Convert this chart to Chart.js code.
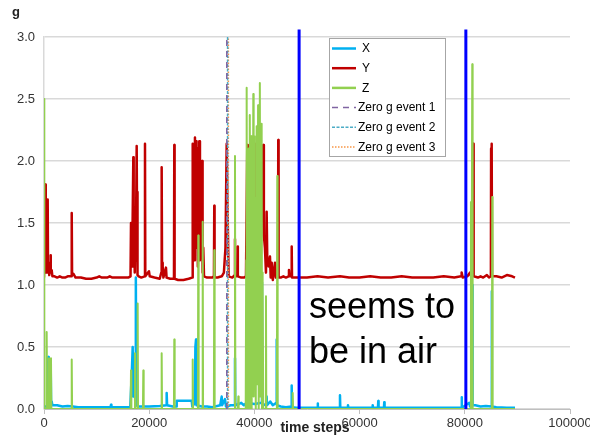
<!DOCTYPE html>
<html>
<head>
<meta charset="utf-8">
<script src="https://cdn.jsdelivr.net/npm/chart.js@4/dist/chart.umd.min.js"></script>
<style>
html,body{margin:0;padding:0;background:#fff;}
#wrap{width:590px;height:437px;position:relative;}
</style>
</head>
<body>
<div id="wrap"><canvas id="c" width="590" height="437"></canvas></div>
<script>
// ---------- data ----------
const xTickLabels = ['0','20000','40000','60000','80000','100000'];
const yTickLabels = ['0.0','0.5','1.0','1.5','2.0','2.5','3.0'];
const seriesNames = ['X','Y','Z','Zero g event 1','Zero g event 2','Zero g event 3'];
const xAxisTitle = 'time steps';
const yAxisTitle = 'g';
const noteLines = ['seems to','be in air'];

// [time step, g]
const seriesX = [[0,0.02],[730,0.02],[820,0.42],[900,0.03],[1150,0.05],[1270,0.35],[1350,0.04],[1460,0.06],[1600,0.03],[2500,0.03],[3500,0.02],[4500,0.025],[5500,0.02],[6500,0.015],[8000,0.015],[10000,0.015],[12650,0.015],[12740,0.035],[12820,0.015],[15000,0.015],[16400,0.015],[16700,0.3],[16860,0.50],[16950,0.1],[17200,0.35],[17350,0.05],[17430,0.05],[17490,1.06],[17550,0.03],[18000,0.02],[20000,0.02],[22000,0.025],[23250,0.03],[23320,0.13],[23400,0.03],[24500,0.02],[25150,0.02],[25230,0.067],[28080,0.067],[28200,0.02],[28700,0.05],[28780,0.5],[28900,0.56],[28980,0.03],[30000,0.02],[31000,0.02],[32000,0.015],[33500,0.03],[33780,0.1],[33860,0.03],[34410,0.08],[34600,0.02],[35500,0.03],[36250,0.03],[36310,0.41],[36370,0.03],[37000,0.04],[37500,0.05],[38000,0.03],[38500,0.05],[40000,0.04],[41380,0.05],[41440,1.02],[41500,0.04],[42280,0.03],[42330,0.1],[42400,0.03],[43000,0.06],[43500,0.03],[44180,0.05],[44240,0.56],[44300,0.03],[45000,0.02],[46000,0.015],[47030,0.02],[47090,0.19],[47150,0.015],[48000,0.01],[51970,0.01],[52030,0.045],[52090,0.01],[56210,0.01],[56270,0.11],[56330,0.01],[57730,0.01],[57790,0.03],[57850,0.01],[62430,0.01],[62490,0.03],[62550,0.01],[63490,0.01],[63550,0.065],[63610,0.01],[64630,0.01],[64690,0.055],[64750,0.01],[79340,0.01],[79400,0.095],[79460,0.01],[80850,0.05],[81000,0.02],[81250,0.02],[81310,0.4],[81420,1.0],[81480,0.03],[82000,0.03],[83000,0.02],[84000,0.025],[85050,0.02],[85110,0.95],[85170,0.02],[86000,0.015],[88000,0.01],[89540,0.01]];

const seriesY = [[0,1.06],[180,1.06],[250,1.81],[330,1.1],[450,1.2],[550,1.12],[640,1.1],[700,1.69],[770,1.1],[900,1.18],[1000,1.08],[1150,1.15],[1240,1.24],[1320,1.1],[1460,1.12],[1600,1.07],[2000,1.07],[2500,1.06],[3000,1.07],[3500,1.06],[4000,1.06],[4500,1.07],[5200,1.07],[5270,1.58],[5340,1.08],[5600,1.09],[6000,1.06],[7000,1.06],[8000,1.05],[9000,1.05],[10000,1.06],[10500,1.07],[11000,1.06],[12000,1.06],[12500,1.07],[13000,1.06],[14000,1.06],[15000,1.06],[16000,1.06],[16450,1.07],[16540,1.50],[16600,1.2],[16670,1.45],[16750,1.15],[16850,1.52],[16980,2.03],[17050,1.3],[17150,1.5],[17250,1.1],[17350,1.55],[17450,1.2],[17620,2.12],[17700,1.4],[17740,1.75],[17820,1.08],[18000,1.07],[18500,1.06],[19140,1.07],[19200,2.14],[19260,1.07],[19960,1.11],[20100,1.07],[21000,1.06],[22000,1.05],[22300,1.1],[22370,1.95],[22440,1.18],[22560,1.15],[22700,1.06],[23190,1.14],[23300,1.06],[24000,1.05],[24710,1.05],[24770,2.13],[24830,1.05],[25500,1.04],[26500,1.04],[27500,1.05],[28150,1.06],[28270,2.14],[28350,1.3],[28450,2.1],[28550,1.2],[28700,2.19],[28800,1.5],[28900,2.16],[29000,1.3],[29150,2.1],[29250,1.15],[29400,1.6],[29520,2.16],[29650,1.2],[29800,1.4],[30040,2.0],[30150,1.1],[30280,1.3],[30420,1.07],[31000,1.06],[32000,1.06],[32310,1.07],[32370,1.64],[32430,1.06],[33000,1.06],[33800,1.07],[34200,1.1],[34350,1.2],[34500,1.3],[34730,2.14],[34900,1.6],[35100,1.07],[35800,1.06],[36250,1.08],[36310,1.37],[36370,1.07],[36760,1.07],[36820,1.31],[36880,1.07],[37500,1.06],[38000,1.06],[38400,1.07],[38500,1.5],[38650,2.13],[38750,1.3],[38900,1.8],[39000,1.2],[39160,2.1],[39290,2.13],[39400,1.4],[39600,1.9],[39800,1.3],[40000,1.6],[40150,1.2],[40300,2.14],[40400,1.5],[40600,2.0],[40800,1.3],[41000,1.7],[41200,1.2],[41450,2.0],[41690,2.13],[41800,1.4],[42000,1.3],[42200,1.1],[42330,1.59],[42450,1.2],[42700,1.15],[42960,1.23],[43100,1.06],[43290,1.18],[43500,1.04],[43700,1.1],[43910,1.18],[44100,1.06],[44480,1.07],[44540,2.17],[44600,1.06],[45000,1.06],[45500,1.07],[46000,1.06],[46500,1.07],[46570,1.12],[46650,1.07],[47030,1.07],[47090,1.31],[47150,1.06],[48000,1.06],[50000,1.06],[52000,1.07],[54000,1.06],[56270,1.07],[58000,1.06],[60000,1.06],[62000,1.07],[64000,1.06],[66000,1.06],[68000,1.07],[70000,1.06],[72000,1.06],[74000,1.06],[76000,1.07],[78000,1.06],[79300,1.07],[79400,1.1],[79600,1.06],[80500,1.07],[80980,1.1],[81200,1.07],[81500,1.2],[81610,2.14],[81680,1.07],[82500,1.06],[83000,1.07],[83500,1.06],[84200,1.08],[84600,1.06],[84960,1.07],[85000,2.1],[85110,2.14],[85180,1.07],[86000,1.07],[87000,1.06],[88000,1.08],[89000,1.07],[89540,1.06]];

const seriesZ = [[0,2.5],[60,0],[440,0],[510,0.62],[580,0],[880,0],[950,0.41],[1020,0],[1260,0],[1330,0.41],[1400,0],[5200,0],[5270,0.40],[5340,0],[16470,0],[16540,0.31],[16610,0],[17230,0],[17300,0.45],[17370,0],[17740,0],[17810,0.85],[17880,0],[18810,0],[18880,0.31],[18950,0],[22300,0],[22370,0.45],[22440,0],[24700,0],[24770,0.56],[24840,0],[28200,0],[28270,0.40],[28340,0],[29260,0],[29330,1.40],[29400,0],[30100,0],[30170,1.51],[30240,0],[32300,0],[32370,1.28],[32440,0],[36240,0],[36310,2.04],[36380,0],[36870,0],[36940,0.1],[37010,0],[38350,0],[38440,1.2],[38530,2.59],[38600,0],[38680,1.8],[38760,0.2],[38840,1.3],[38920,2.1],[39000,0],[39080,1.5],[39160,2.37],[39240,0.3],[39320,1.6],[39400,2.2],[39480,0],[39560,1.4],[39650,1.9],[39720,0.5],[39790,2.54],[39860,0.1],[39930,1.2],[40000,2.2],[40080,0.4],[40150,1.3],[40220,1.7],[40300,0],[40370,1.6],[40430,2.28],[40500,0.2],[40580,1.5],[40640,0.6],[40700,2.45],[40780,0],[40860,1.4],[40950,1.8],[41010,0.5],[41060,2.63],[41130,0.1],[41200,1.3],[41250,2.0],[41320,0.4],[41380,2.3],[41450,0],[41530,1.1],[41600,1.0],[41680,0],[42140,0],[42200,0.91],[42260,0],[44280,0],[44350,1.88],[44420,0],[47210,0],[47280,0.13],[47350,0],[81100,0],[81170,1.67],[81240,0],[81350,0],[81420,2.78],[81490,0],[85150,0],[85220,1.71],[85290,0],[89540,0]];

const zeroG1 = [[34750,0],[34750,3.0]];
const zeroG2 = [[34900,0],[34900,3.0]];
const zeroG3 = [[35050,0],[35050,3.0]];
const airStart = 48500;
const airEnd = 80200;
const airLineTop = 3.06;

// ---------- chart ----------
const toXY = arr => arr.map(p => ({x:p[0], y:p[1]}));
const FONT = "'Liberation Sans', Arial, sans-serif";
Chart.defaults.font.family = FONT;

const legendItems = [
  {name:seriesNames[0], color:'#00b0f0', width:2.5, dash:[]},
  {name:seriesNames[1], color:'#c00000', width:2.5, dash:[]},
  {name:seriesNames[2], color:'#92d050', width:2.5, dash:[]},
  {name:seriesNames[3], color:'#8064a2', width:1.5, dash:[6,5]},
  {name:seriesNames[4], color:'#4bacc6', width:1.5, dash:[3,1.5]},
  {name:seriesNames[5], color:'#f79646', width:1.5, dash:[1.5,1.5]}
];

const overlay = {
  id:'overlay',
  afterDraw(chart){
    const ctx = chart.ctx;
    ctx.save();
    // axis titles
    ctx.fillStyle = '#222';
    ctx.font = 'bold 13px ' + FONT;
    ctx.textAlign = 'center';
    ctx.textBaseline = 'alphabetic';
    ctx.fillText(yAxisTitle, 16, 16);
    ctx.font = 'bold 14px ' + FONT;
    ctx.fillText(xAxisTitle, 315, 432);
    // note text
    ctx.fillStyle = '#000';
    ctx.font = '36px ' + FONT;
    ctx.textAlign = 'left';
    ctx.fillText(noteLines[0], 309, 318);
    ctx.fillText(noteLines[1], 309, 363);
    // legend box
    ctx.fillStyle = '#fff';
    ctx.fillRect(329, 38, 117, 119);
    ctx.strokeStyle = '#a6a6a6';
    ctx.lineWidth = 1;
    ctx.setLineDash([]);
    ctx.strokeRect(329.5, 38.5, 116, 118);
    ctx.font = '12px ' + FONT;
    ctx.textBaseline = 'middle';
    legendItems.forEach((it, i) => {
      const y = 48.5 + i * 19.7;
      ctx.strokeStyle = it.color;
      ctx.lineWidth = it.width;
      ctx.setLineDash(it.dash);
      ctx.beginPath();
      ctx.moveTo(332, y);
      ctx.lineTo(356, y);
      ctx.stroke();
      ctx.fillStyle = '#000';
      ctx.fillText(it.name, i < 3 ? 362 : 358, y + 0.5);
    });
    ctx.restore();
  }
};

new Chart(document.getElementById('c'), {
  type:'scatter',
  data:{
    datasets:[
      {label:seriesNames[0], data:toXY(seriesX), borderColor:'#00b0f0', borderWidth:2.5, order:4},
      {label:seriesNames[1], data:toXY(seriesY), borderColor:'#c00000', borderWidth:2.5, order:3},
      {label:seriesNames[2], data:toXY(seriesZ), borderColor:'#92d050', borderWidth:2, order:2},
      {label:seriesNames[3], data:toXY(zeroG1), borderColor:'#8064a2', borderWidth:1.5, borderDash:[6,5], order:1},
      {label:seriesNames[4], data:toXY(zeroG2), borderColor:'#4bacc6', borderWidth:1.5, borderDash:[3,1.5], order:1},
      {label:seriesNames[5], data:toXY(zeroG3), borderColor:'#f79646', borderWidth:1.5, borderDash:[1.5,1.5], order:1},
      {label:'air start', data:[{x:airStart,y:0},{x:airStart,y:airLineTop}], borderColor:'#0000ff', borderWidth:3, clip:false, order:0},
      {label:'air end', data:[{x:airEnd,y:0},{x:airEnd,y:airLineTop}], borderColor:'#0000ff', borderWidth:3, clip:false, order:0}
    ]
  },
  options:{
    responsive:false,
    animation:false,
    showLine:true,
    elements:{point:{radius:0, hoverRadius:0}, line:{tension:0, fill:false, borderJoinStyle:'round', borderCapStyle:'butt'}},
    layout:{padding:{top:37, right:20, left:0, bottom:0}},
    plugins:{legend:{display:false}, tooltip:{enabled:false}, title:{display:false}},
    scales:{
      x:{
        type:'linear', min:0, max:100000,
        ticks:{stepSize:20000, autoSkip:false, maxRotation:0, padding:2, color:'#333', font:{size:13},
          callback:(v,i)=>xTickLabels[i]},
        grid:{drawOnChartArea:false, drawTicks:true, tickLength:5, color:'#bfbfbf'},
        border:{display:true, color:'#bfbfbf'},
        afterFit(s){ s.height = 28; s.paddingRight = 0; }
      },
      y:{
        min:0, max:3,
        ticks:{stepSize:0.5, padding:9, color:'#333', font:{size:13},
          callback:(v,i)=>yTickLabels[i]},
        grid:{color:'#d9d9d9', lineWidth:1.5, drawTicks:false},
        border:{display:true, color:'#d9d9d9', width:1.5},
        afterFit(s){ s.width = 44; }
      }
    }
  },
  plugins:[overlay]
});
</script>
</body>
</html>
